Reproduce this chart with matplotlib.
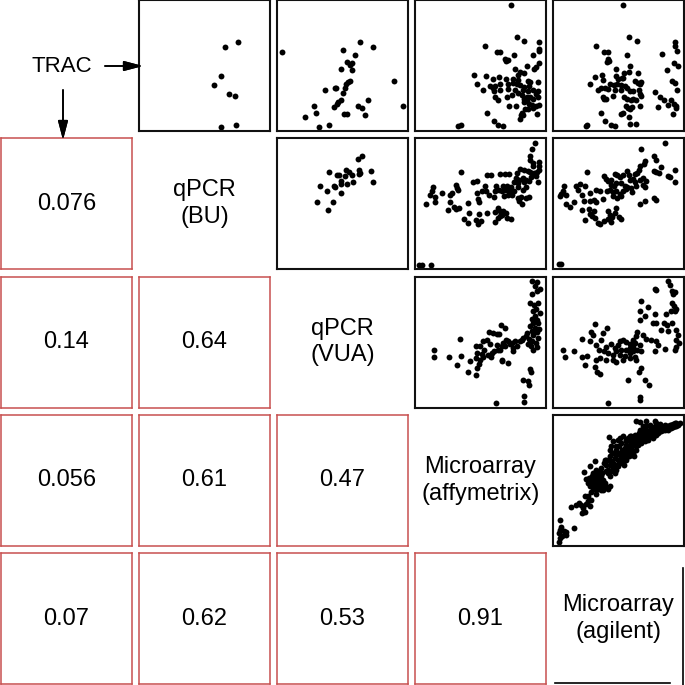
import numpy as np
import matplotlib
matplotlib.use('Agg')
import matplotlib.pyplot as plt
from matplotlib.lines import Line2D

plt.rcParams['font.family'] = ['Liberation Sans', 'DejaVu Sans']

# variable names on the diagonal
labels = ['TRAC', 'qPCR\n(BU)', 'qPCR\n(VUA)', 'Microarray\n(affymetrix)', 'Microarray\n(agilent)']

# correlations shown in the lower triangle (row, col, value)
corr_rows = [1, 2, 2, 3, 3, 3, 4, 4, 4, 4]
corr_cols = [0, 0, 1, 0, 1, 2, 0, 1, 2, 3]
corr_vals = ['0.076', '0.14', '0.64', '0.056', '0.61', '0.47', '0.07', '0.62', '0.53', '0.91']

# scatter values (arbitrary units, 0..393)
p01 = np.array([[259, 252], [297, 267], [247, 164], [226, 139], [270, 112], [288, 105], [247, 13], [292, 18]])

p02 = np.array([[15, 236], [248, 267], [287, 252], [197, 242], [233, 227], [210, 207], [225, 202], [218, 197],
                [225, 184], [191, 186], [212, 147], [218, 149], [208, 140], [205, 130], [173, 130], [178, 130],
                [145, 122], [197, 115], [192, 94], [183, 87], [180, 80], [170, 71], [110, 74], [117, 55],
                [83, 42], [127, 13], [156, 18], [273, 92], [242, 74], [256, 68], [265, 48], [202, 52],
                [210, 50], [350, 149], [379, 75]])

p03 = np.array([[288, 376], [306, 281], [328, 268], [211, 254], [371, 267], [373, 244], [371, 240], [246, 236],
                [254, 236], [298, 226], [353, 227], [270, 214], [273, 209], [278, 211], [337, 195], [371, 202],
                [364, 192], [301, 185], [358, 185], [178, 169], [213, 164], [234, 156], [251, 162], [272, 157],
                [315, 177], [327, 174], [310, 167], [295, 156], [310, 152], [338, 149], [346, 147], [370, 147],
                [185, 140], [226, 134], [233, 130], [241, 134], [254, 142], [280, 142], [293, 144], [305, 140],
                [315, 137], [327, 132], [343, 134], [205, 122], [237, 120], [256, 124], [278, 127], [301, 124],
                [325, 122], [338, 121], [355, 124], [370, 120], [241, 102], [250, 92], [277, 102], [290, 109],
                [310, 114], [320, 107], [328, 96], [335, 102], [345, 102], [355, 97], [362, 112], [370, 102],
                [283, 75], [304, 74], [326, 87], [335, 90], [343, 82], [350, 77], [364, 74], [373, 77],
                [330, 67], [340, 67], [355, 70], [215, 54], [320, 54], [325, 47], [315, 36], [318, 47],
                [367, 50], [238, 30], [250, 18], [263, 15], [128, 14], [138, 19]])

p04 = np.array([[211, 376], [228, 281], [253, 268], [129, 254], [153, 236], [165, 236], [223, 226], [165, 214],
                [161, 207], [167, 210], [232, 195], [189, 187], [214, 174], [227, 177], [254, 174], [125, 162],
                [148, 167], [189, 166], [194, 156], [206, 160], [211, 160], [110, 140], [150, 152], [172, 142],
                [182, 137], [192, 140], [203, 137], [215, 134], [222, 130], [247, 149], [255, 144], [265, 146],
                [260, 140], [135, 124], [145, 130], [155, 130], [165, 126], [185, 124], [205, 122], [232, 120],
                [240, 120], [258, 122], [260, 112], [149, 102], [152, 96], [160, 97], [180, 106], [212, 102],
                [222, 96], [240, 96], [235, 92], [250, 92], [265, 106], [218, 74], [225, 70], [230, 67],
                [238, 72], [260, 74], [143, 54], [205, 52], [210, 54], [228, 42], [155, 30], [173, 18],
                [185, 15], [232, 20], [248, 22], [98, 14], [102, 19], [365, 267], [367, 254], [373, 240],
                [328, 229], [362, 202], [375, 195], [343, 184], [357, 149], [365, 144], [372, 122], [307, 117],
                [320, 102], [333, 92], [353, 94], [345, 79], [362, 80], [368, 74], [370, 70], [315, 72],
                [360, 50]])

p12 = np.array([[254, 340], [243, 329], [155, 292], [179, 282], [187, 283], [207, 298], [216, 292], [225, 282],
                [205, 278], [247, 297], [248, 288], [281, 295], [245, 285], [192, 263], [193, 256], [211, 256],
                [228, 260], [287, 260], [128, 248], [170, 248], [174, 246], [150, 233], [192, 228], [121, 202],
                [168, 201], [152, 178]])

p13 = np.array([[359, 378], [351, 360], [346, 338], [346, 328], [355, 318], [373, 321], [371, 310], [353, 308],
                [137, 291], [215, 281], [228, 281], [256, 284], [271, 285], [283, 285], [307, 288], [315, 301],
                [328, 298], [338, 293], [345, 290], [358, 288], [366, 291], [373, 298], [303, 273], [313, 268],
                [323, 273], [333, 268], [348, 276], [363, 278], [368, 260], [173, 260], [185, 263], [296, 260],
                [308, 258], [328, 260], [343, 263], [123, 253], [126, 243], [128, 236], [210, 248], [243, 250],
                [263, 250], [275, 248], [288, 246], [308, 246], [333, 246], [55, 246], [50, 233], [45, 221],
                [59, 215], [82, 228], [104, 221], [111, 228], [186, 228], [200, 233], [213, 233], [240, 233],
                [251, 236], [260, 233], [271, 238], [283, 235], [298, 233], [323, 238], [223, 221], [236, 216],
                [266, 218], [278, 223], [290, 223], [308, 213], [318, 215], [333, 213], [343, 216], [33, 196],
                [59, 200], [104, 200], [117, 186], [123, 181], [133, 183], [100, 178], [160, 198], [188, 210],
                [193, 200], [313, 203], [321, 196], [250, 184], [255, 175], [265, 173], [273, 168], [163, 168],
                [193, 166], [217, 168], [239, 170], [261, 163], [249, 153], [256, 158], [275, 155], [288, 152],
                [148, 150], [160, 138], [183, 148], [190, 136], [198, 146], [241, 143], [11, 14], [22, 14],
                [48, 14]])

p14 = np.array([[335, 377], [264, 360], [303, 340], [308, 328], [276, 324], [273, 315], [261, 310], [257, 298],
                [252, 288], [247, 285], [103, 291], [152, 280], [160, 270], [165, 263], [175, 268], [185, 286],
                [192, 283], [200, 275], [210, 282], [223, 293], [227, 283], [230, 268], [240, 270], [245, 260],
                [260, 268], [270, 273], [278, 263], [302, 293], [308, 290], [318, 288], [325, 305], [345, 280],
                [350, 275], [365, 298], [365, 260], [175, 253], [183, 248], [190, 258], [205, 258], [215, 250],
                [222, 246], [235, 242], [250, 250], [270, 253], [275, 246], [32, 248], [30, 233], [38, 223],
                [20, 218], [23, 226], [70, 248], [82, 255], [95, 248], [75, 238], [87, 223], [110, 228],
                [130, 238], [140, 233], [163, 233], [170, 238], [180, 230], [190, 233], [200, 226], [210, 233],
                [220, 240], [238, 232], [40, 196], [52, 186], [62, 200], [93, 203], [110, 203], [122, 208],
                [130, 200], [150, 210], [180, 218], [192, 213], [205, 218], [260, 196], [275, 205], [303, 213],
                [309, 206], [88, 178], [108, 180], [122, 175], [110, 166], [118, 158], [125, 153], [135, 140],
                [140, 136], [95, 148], [152, 146], [165, 173], [170, 163], [178, 156], [185, 168], [190, 183],
                [197, 156], [205, 151], [175, 143], [165, 150], [18, 15], [25, 15]])

p23 = np.array([[352, 378], [367, 375], [360, 365], [375, 355], [367, 348], [352, 341], [345, 313], [358, 308],
                [370, 313], [363, 295], [353, 288], [375, 283], [360, 273], [350, 265], [365, 263], [355, 253],
                [370, 253], [345, 243], [360, 238], [373, 235], [350, 228], [365, 225], [337, 223], [333, 213],
                [355, 218], [343, 205], [370, 208], [350, 198], [363, 193], [347, 183], [365, 181], [355, 173],
                [340, 191], [325, 208], [320, 203], [315, 198], [300, 198], [290, 193], [285, 191], [280, 198],
                [273, 201], [265, 193], [270, 185], [293, 178], [295, 168], [305, 183], [258, 248], [270, 238],
                [223, 225], [235, 223], [245, 221], [251, 220], [135, 205], [183, 183], [195, 185], [205, 200],
                [217, 203], [225, 191], [245, 188], [260, 183], [255, 171], [238, 168], [248, 173], [187, 163],
                [200, 161], [208, 171], [220, 157], [227, 151], [183, 148], [195, 143], [205, 151], [230, 163],
                [260, 143], [280, 133], [262, 138], [58, 173], [57, 151], [102, 151], [137, 155], [127, 127],
                [165, 138], [187, 119], [160, 108], [183, 99], [193, 131], [345, 115], [347, 108], [325, 83],
                [340, 81], [343, 68], [327, 35], [327, 16], [243, 15]])

p24 = np.array([[345, 378], [352, 368], [358, 348], [365, 345], [360, 341], [305, 355], [310, 351], [264, 318],
                [285, 300], [307, 280], [340, 280], [358, 313], [362, 305], [368, 295], [355, 288], [365, 288],
                [260, 288], [275, 273], [260, 263], [300, 253], [310, 253], [332, 253], [343, 248], [358, 253],
                [325, 233], [345, 228], [368, 233], [375, 218], [370, 203], [378, 193], [370, 181], [365, 173],
                [335, 175], [310, 198], [315, 188], [305, 168], [295, 203], [280, 205], [270, 218], [250, 213],
                [253, 225], [240, 203], [245, 193], [260, 188], [125, 250], [115, 225], [120, 218], [150, 223],
                [162, 238], [145, 201], [88, 205], [110, 198], [130, 188], [138, 173], [160, 181], [175, 191],
                [185, 178], [195, 188], [200, 198], [210, 203], [220, 195], [230, 191], [190, 168], [205, 171],
                [220, 173], [230, 178], [240, 181], [152, 168], [165, 163], [180, 158], [200, 158], [215, 155],
                [230, 163], [240, 168], [252, 173], [265, 168], [30, 171], [62, 168], [37, 150], [88, 151],
                [103, 155], [128, 143], [140, 148], [160, 143], [180, 141], [188, 135], [210, 143], [230, 148],
                [245, 151], [248, 143], [96, 126], [125, 120], [133, 108], [140, 101], [265, 118], [258, 108],
                [225, 83], [277, 83], [287, 68], [262, 33], [262, 23], [165, 15]])

p34 = np.array([[18, 13], [20, 23], [18, 38], [22, 48], [25, 58], [32, 46], [38, 33], [28, 30], [40, 43],
                [62, 53], [22, 78], [53, 116], [68, 122], [78, 128], [85, 123], [90, 113], [95, 100], [88, 98],
                [98, 125], [105, 133], [110, 118], [95, 148], [105, 150], [115, 138], [115, 160], [130, 156],
                [150, 166], [92, 220], [110, 238], [118, 210], [125, 253], [130, 228], [108, 203], [110, 193],
                [115, 183], [120, 193], [128, 180], [135, 188], [140, 178], [145, 188], [152, 180], [158, 176],
                [165, 170], [172, 180], [132, 208], [138, 213], [142, 203], [148, 218], [145, 233], [152, 248],
                [155, 258], [160, 243], [158, 223], [165, 228], [170, 243], [165, 258], [172, 268], [175, 253],
                [178, 278], [180, 233], [185, 263], [188, 288], [190, 273], [195, 258], [200, 278], [198, 298],
                [205, 308], [208, 288], [210, 268], [215, 293], [218, 313], [220, 303], [222, 278], [225, 323],
                [228, 298], [232, 313], [235, 328], [238, 288], [240, 308], [245, 333], [248, 318], [250, 298],
                [255, 323], [258, 338], [260, 313], [265, 328], [270, 343], [272, 318], [275, 333], [280, 348],
                [282, 323], [285, 338], [290, 346], [295, 328], [298, 340], [302, 350], [305, 333], [310, 353],
                [315, 338], [318, 348], [322, 358], [325, 343], [330, 356], [335, 348], [340, 360], [345, 346],
                [350, 363], [355, 353], [360, 366], [365, 358], [370, 368], [375, 363], [380, 368], [250, 373],
                [260, 370], [278, 373], [305, 373], [167, 326], [180, 313], [195, 318], [192, 243], [205, 253],
                [212, 243], [218, 258], [228, 268], [235, 273], [242, 268], [190, 300], [200, 323], [210, 328],
                [170, 288], [175, 300], [160, 258], [165, 218], [170, 208], [175, 223], [180, 248], [185, 218],
                [190, 228], [195, 238], [200, 248], [205, 268], [210, 278], [215, 258], [220, 288], [225, 268],
                [230, 283], [235, 298], [240, 278], [245, 308], [250, 288], [255, 303], [260, 328], [265, 308],
                [270, 323], [275, 313], [280, 333], [285, 318], [290, 330], [295, 343], [300, 323], [305, 348],
                [310, 333], [315, 358], [320, 343], [325, 353], [330, 346], [335, 363], [340, 350], [345, 358],
                [350, 353], [355, 363], [360, 356], [365, 368], [370, 360], [220, 318], [230, 328], [240, 323],
                [260, 348], [270, 358], [280, 360], [290, 363], [300, 356], [310, 368], [320, 366], [120, 218],
                [125, 203], [130, 193], [135, 218], [140, 223], [145, 208], [150, 198], [155, 188], [145, 168],
                [138, 173], [130, 168], [120, 173], [110, 178], [105, 188], [100, 200], [125, 178]])

panels = {(0, 1): p01, (0, 2): p02, (0, 3): p03, (0, 4): p04,
          (1, 2): p12, (1, 3): p13, (1, 4): p14,
          (2, 3): p23, (2, 4): p24, (3, 4): p34}

W = 685
red = '#c8504f'
fs = 17
fig = plt.figure(figsize=(6.85, 6.85), dpi=100)


def cell(i, j):
    left = 1 + j * 138
    top = i * 138.3
    return fig.add_axes([left / W, (W - top - 131) / W, 131 / W, 131 / W])


for i in range(5):
    for j in range(5):
        ax = cell(i, j)
        ax.set_xticks([])
        ax.set_yticks([])
        if (i, j) in panels:
            pts = panels[(i, j)]
            ax.scatter(pts[:, 0], pts[:, 1], s=18, color='black', linewidths=0)
            ax.set_xlim(0, 393)
            ax.set_ylim(0, 392)
            for sp in ax.spines.values():
                sp.set_color('#111111')
                sp.set_linewidth(1.5)
        elif i == j:
            for sp in ax.spines.values():
                sp.set_visible(False)
            if i > 0:
                ax.text(0.5, 0.5, labels[i], ha='center', va='center', fontsize=fs,
                        linespacing=1.28, transform=ax.transAxes)
        else:
            for sp in ax.spines.values():
                sp.set_color(red)
                sp.set_linewidth(1.1)

for r, c, v in zip(corr_rows, corr_cols, corr_vals):
    ax = fig.axes[r * 5 + c]
    ax.text(0.5, 0.5, v, ha='center', va='center', fontsize=fs, transform=ax.transAxes)

# TRAC label with its two arrows
fig.text(62 / W, 1 - 67 / W, labels[0], ha='center', va='center', fontsize=16)
arrow = dict(arrowstyle='-|>,head_length=1.15,head_width=0.3', color='black', lw=1.2,
             shrinkA=0, shrinkB=0)
fig.add_artist(plt.annotate('', xy=(143, W - 66), xytext=(105, W - 66),
                            xycoords='figure pixels', textcoords='figure pixels', arrowprops=arrow))
fig.add_artist(plt.annotate('', xy=(63, W - 140), xytext=(63, W - 90),
                            xycoords='figure pixels', textcoords='figure pixels', arrowprops=arrow))

# leftover frame lines at the bottom right
fig.add_artist(Line2D([683 / W, 683 / W], [0, 1 - 568 / W], color='black', lw=1.2))
fig.add_artist(Line2D([555 / W, 670 / W], [1 - 683 / W, 1 - 683 / W], color='black', lw=1.2))

fig.savefig('out.png', dpi=100)
